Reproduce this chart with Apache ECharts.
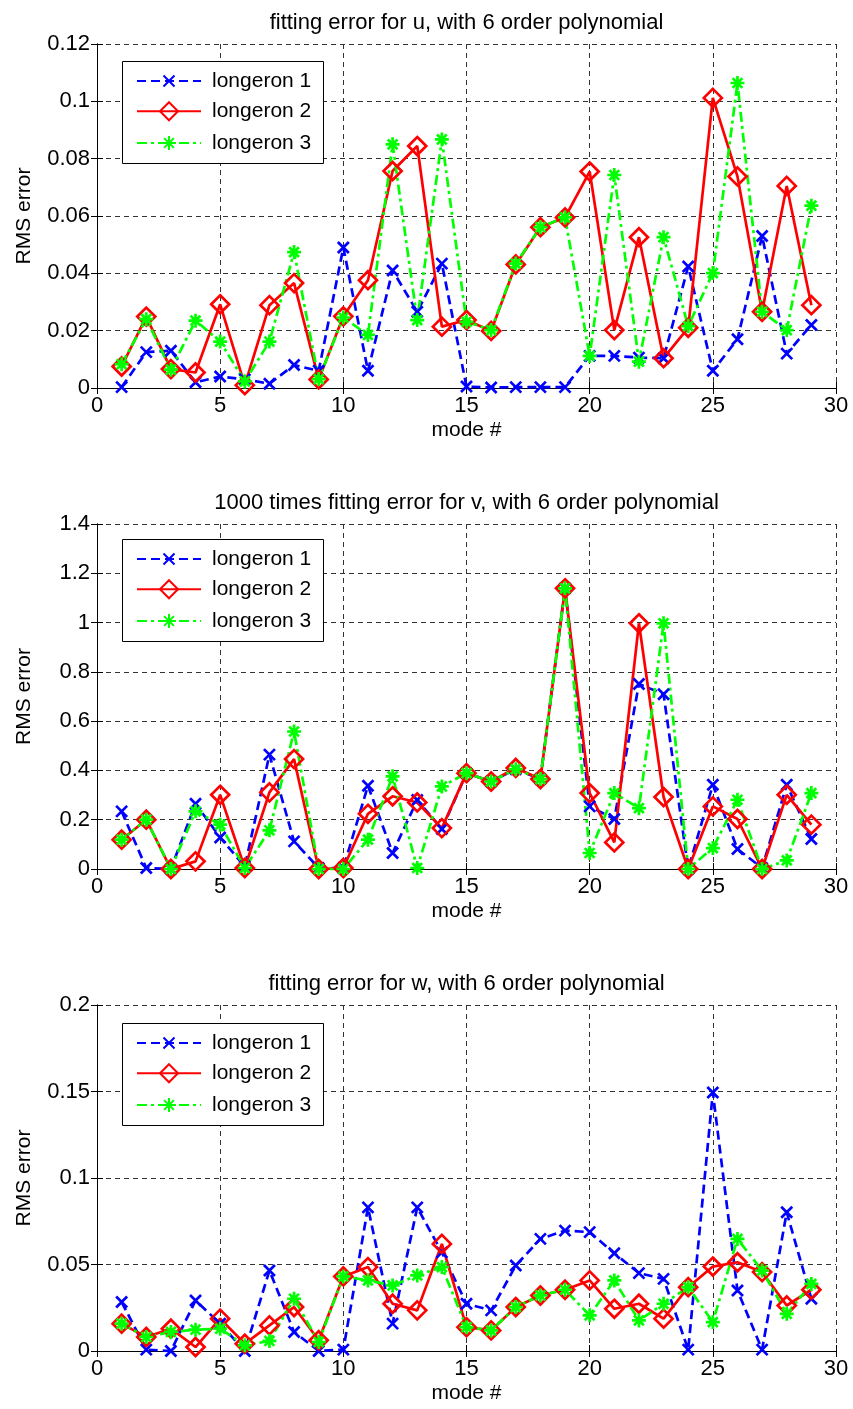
<!DOCTYPE html>
<html>
<head>
<meta charset="utf-8">
<script src="https://cdn.jsdelivr.net/npm/echarts@6/dist/echarts.min.js"></script>
<style>
html,body{margin:0;padding:0;background:#fff;}
#c{width:853px;height:1409px;}
</style>
</head>
<body>
<div id="c"></div>
<script>
// ---- data ----
const modes = [1,2,3,4,5,6,7,8,9,10,11,12,13,14,15,16,17,18,19,20,21,22,23,24,25,26,27,28,29];
const seriesNames = ['longeron 1', 'longeron 2', 'longeron 3'];
const titles = [
  'fitting error for u, with 6 order polynomial',
  '1000 times fitting error for v, with 6 order polynomial',
  'fitting error for w, with 6 order polynomial'
];
const xTicks = [0, 5, 10, 15, 20, 25, 30];
const yMaxes = [0.12, 1.4, 0.2];
const yIntervals = [0.02, 0.2, 0.05];

// u
const uL1 = [0.0003,0.0125,0.013,0.002,0.004,0.003,0.0015,0.008,0.006,0.049,0.006,0.041,0.0266,0.0434,0.0005,0.0002,0.0003,0.0003,0.0003,0.0112,0.0112,0.0106,0.0104,0.0424,0.006,0.017,0.053,0.012,0.022];
const uL2 = [0.0075,0.0249,0.0066,0.0054,0.0292,0.001,0.0289,0.0366,0.003,0.025,0.0376,0.0757,0.0844,0.0214,0.0237,0.0199,0.0431,0.0561,0.0595,0.0755,0.0202,0.0526,0.0104,0.021,0.1012,0.0738,0.0266,0.0705,0.0289];
const uL3 = [0.0083,0.024,0.0064,0.0235,0.0162,0.0023,0.0162,0.0474,0.0031,0.0246,0.0185,0.085,0.0237,0.0867,0.0231,0.0202,0.0434,0.0561,0.0595,0.0112,0.0743,0.0092,0.0526,0.0216,0.0401,0.1064,0.0266,0.0202,0.0636];
// v (x1000)
const vL1 = [0.234,0.004,0.0,0.265,0.128,0.01,0.464,0.112,0.004,0.004,0.338,0.065,0.28,0.162,0.389,0.355,0.405,0.365,1.139,0.254,0.203,0.751,0.709,0.0,0.342,0.081,0.004,0.342,0.122];
const vL2 = [0.119,0.2,0.0,0.031,0.301,0.004,0.311,0.446,0.0,0.004,0.224,0.295,0.27,0.166,0.389,0.355,0.41,0.365,1.139,0.308,0.108,0.997,0.292,0.0,0.254,0.203,0.0,0.301,0.18];
const vL3 = [0.119,0.2,0.0,0.234,0.18,0.004,0.157,0.558,0.0,0.0,0.119,0.376,0.004,0.335,0.389,0.355,0.405,0.365,1.139,0.065,0.308,0.247,0.997,0.0,0.085,0.281,0.0,0.035,0.308];
// w
const wL1 = [0.0283,0.0008,0.0,0.0292,0.0158,0.0,0.0465,0.011,0.0,0.0008,0.083,0.0158,0.083,0.057,0.0273,0.0235,0.0494,0.0648,0.0696,0.0687,0.0565,0.045,0.0417,0.0008,0.1494,0.035,0.0008,0.0802,0.0302];
const wL2 = [0.0158,0.0081,0.0129,0.0023,0.0187,0.0042,0.0148,0.0254,0.0062,0.0431,0.0485,0.0273,0.0235,0.0619,0.0138,0.0119,0.0254,0.0321,0.0354,0.0408,0.0244,0.0273,0.0187,0.0369,0.0488,0.0513,0.0456,0.0263,0.0354];
const wL3 = [0.0158,0.0081,0.011,0.0123,0.0129,0.0033,0.0058,0.0302,0.0052,0.0431,0.0408,0.0379,0.0437,0.0485,0.0138,0.0119,0.0254,0.0321,0.0354,0.0206,0.0408,0.0177,0.0273,0.0369,0.0167,0.0648,0.0465,0.0215,0.0388];

const panels = [[uL1,uL2,uL3],[vL1,vL2,vL3],[wL1,wL2,wL3]];

// ---- layout / style ----
const FONT = 'Liberation Sans, Arial, Helvetica, sans-serif';
const grids = [
  {left:97, right:17, top:44, height:344},
  {left:97, right:17, top:524, height:345},
  {left:97, right:17, top:1005, height:346}
];
const legendBoxOffset = [17, 15, 18];
const styles = [
  {color:'#0000ff', type:[9,5], symbol:'path://M0,0L10,10M10,0L0,10', size:11},
  {color:'#ff0000', type:'solid', symbol:'diamond', size:18},
  {color:'#00ff00', type:[10,4,3,4], symbol:'path://M5,0L5,10M0,5L10,5M1.5,1.5L8.5,8.5M8.5,1.5L1.5,8.5', size:14}
];

const xAxis = [], yAxis = [], series = [], title = [], legend = [], graphic = [];
const gridDash = {color:'#333', width:1, type:[5,4]};

grids.forEach((g, gi) => {
  const cx = g.left + (853 - g.left - g.right) / 2 - 5;
  title.push({
    text: titles[gi], left: cx, top: g.top - 37, textAlign: 'center',
    textStyle: {fontFamily: FONT, fontSize: 22, fontWeight: 'normal', color: '#000'}
  });
  xAxis.push({
    type:'value', gridIndex:gi, min:0, max:30, interval:5, position:'bottom',
    name:'mode #', nameLocation:'middle', nameGap:32,
    nameTextStyle:{fontFamily:FONT, fontSize:21, color:'#000'},
    axisLine:{show:true, lineStyle:{color:'#000', width:1}},
    axisTick:{show:true, inside:true, length:6, lineStyle:{color:'#000'}},
    axisLabel:{fontFamily:FONT, fontSize:22, color:'#000', margin:7,
      formatter: v => xTicks.indexOf(v) >= 0 ? String(v) : ''},
    splitLine:{show:true, lineStyle:gridDash}
  });
  xAxis.push({
    type:'value', gridIndex:gi, min:0, max:30, interval:5, position:'top',
    axisLine:{show:true, lineStyle:{color:'#000', width:1}},
    axisTick:{show:true, inside:true, length:6, lineStyle:{color:'#000'}},
    axisLabel:{show:false}, splitLine:{show:false}
  });
  yAxis.push({
    type:'value', gridIndex:gi, min:0, max:yMaxes[gi], interval:yIntervals[gi], position:'left',
    name:'RMS error', nameLocation:'middle', nameGap:62,
    nameTextStyle:{fontFamily:FONT, fontSize:21, color:'#000'},
    axisLine:{show:true, lineStyle:{color:'#000', width:1}},
    axisTick:{show:true, inside:true, length:6, lineStyle:{color:'#000'}},
    axisLabel:{fontFamily:FONT, fontSize:22, color:'#000', margin:7},
    splitLine:{show:true, lineStyle:gridDash}
  });
  yAxis.push({
    type:'value', gridIndex:gi, min:0, max:yMaxes[gi], interval:yIntervals[gi], position:'right',
    axisLine:{show:true, lineStyle:{color:'#000', width:1}},
    axisTick:{show:true, inside:true, length:6, lineStyle:{color:'#000'}},
    axisLabel:{show:false}, splitLine:{show:false}
  });
  panels[gi].forEach((vals, si) => {
    const st = styles[si];
    series.push({
      type:'line', name:seriesNames[si], xAxisIndex:gi*2, yAxisIndex:gi*2,
      data: modes.map((m, i) => [m, vals[i]]),
      symbol: st.symbol, symbolSize: st.size, showSymbol:true, clip:false,
      lineStyle:{color:st.color, width:2.7, type:st.type},
      itemStyle:{color:'rgba(255,255,255,0)', borderColor:st.color, borderWidth:2.7},
      emphasis:{disabled:true}, animation:false, z: 2
    });
  });
  // legend frame
  const boxTop = g.top + legendBoxOffset[gi];
  graphic.push({
    type:'rect', z: 3, silent: true,
    shape:{x:122.5, y:boxTop + 0.5, width:201, height:102},
    style:{fill:'#fff', stroke:'#000', lineWidth:1}
  });
  // one legend per item so each icon can have its own marker size
  seriesNames.forEach((nm, si) => {
    const st = styles[si];
    const ih = st.size / 0.8;
    const centerY = boxTop + 20 + si * 31;
    legend.push({
      data:[nm], orient:'vertical', left:136, top: centerY - Math.max(ih / 2, 10.5),
      padding:0, itemWidth:64, itemHeight:ih, itemGap:0,
      selectedMode:false, z: 5,
      textStyle:{fontFamily:FONT, fontSize:21, color:'#000', padding:[0,0,0,6]}
    });
  });
});

const chart = echarts.init(document.getElementById('c'), null, {renderer:'canvas'});
chart.setOption({
  animation:false, backgroundColor:'#fff',
  title, legend, graphic, grid: grids.map(g => Object.assign({containLabel:false}, g)),
  xAxis, yAxis, series
});
</script>
</body>
</html>
